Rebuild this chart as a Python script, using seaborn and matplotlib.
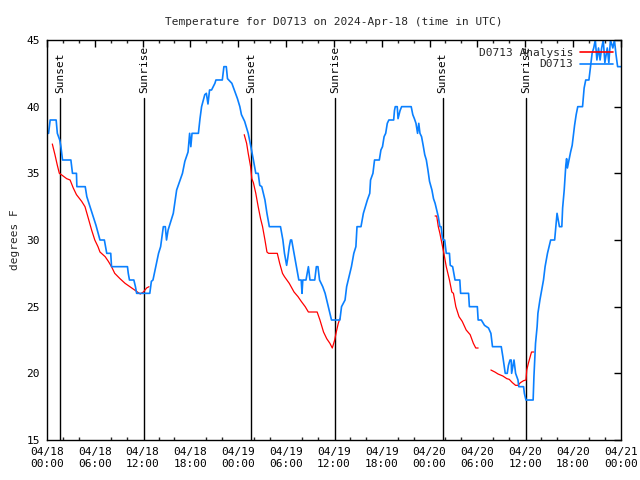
import matplotlib
matplotlib.use("Agg")
import matplotlib.pyplot as plt
import matplotlib.dates as mdates
from matplotlib.lines import Line2D
import numpy as np
import pandas as pd
import seaborn as sns

# time axis starts here, values below are hours after it
t0 = pd.Timestamp("2024-04-18 00:00")

# observed temperature (deg F)
obs_hours = [0.0, 0.2, 0.4, 1.15, 1.3, 1.6, 1.75, 1.95, 3.0, 3.2, 3.7, 3.75, 4.8, 5.0, 5.4, 5.8,
             6.15, 6.65, 7.2, 7.35, 7.5, 8.0, 8.1, 10.1, 10.2, 10.35, 10.9, 11.1, 11.25, 12.9,
             13.1, 13.3, 13.75, 14.0, 14.26, 14.6, 14.85, 15.0, 15.2, 15.85, 16.27, 16.7, 17.0,
             17.3, 17.7, 17.9, 18.05, 18.2, 19.0, 19.2, 19.4, 19.8, 20.0, 20.2, 20.4, 20.65,
             21.07, 21.2, 22.0, 22.2, 22.5, 22.65, 23.2, 23.6, 23.9, 24.2, 24.4, 24.8, 25.0,
             25.25, 25.55, 25.9, 26.2, 26.5, 26.7, 26.95, 27.35, 27.6, 27.9, 29.3, 29.6, 29.8,
             30.07, 30.2, 30.4, 30.56, 30.7, 31.0, 31.3, 31.6, 31.9, 32.0, 32.1, 32.5, 32.8,
             33.0, 33.6, 33.8, 34.0, 34.2, 34.6, 34.9, 35.2, 35.5, 35.7, 36.75, 36.96, 37.4,
             37.6, 37.8, 38.2, 38.5, 38.76, 38.9, 39.4, 39.7, 40.2, 40.5, 40.6, 40.9, 41.1,
             41.7, 41.9, 42.1, 42.3, 42.5, 42.7, 42.9, 43.5, 43.6, 43.7, 43.95, 44.05, 44.3,
             44.5, 45.7, 45.9, 46.1, 46.3, 46.5, 46.65, 46.8, 47.0, 47.2, 47.4, 47.6, 47.8,
             48.0, 48.3, 48.5, 48.7, 48.9, 49.1, 49.3, 49.45, 49.6, 49.7, 49.9, 50.1, 50.5,
             50.6, 50.9, 51.2, 51.8, 51.9, 52.9, 53.0, 54.0, 54.1, 54.5, 54.9, 55.4, 55.7,
             55.9, 57.0, 57.2, 57.45, 57.5, 57.75, 57.9, 58.1, 58.25, 58.3, 58.45, 58.6, 58.8,
             59.1, 59.2, 59.8, 59.9, 60.1, 61.0, 61.1, 61.3, 61.5, 61.6, 61.85, 62.0, 62.3,
             62.5, 62.8, 63.1, 63.2, 63.7, 63.85, 64.0, 64.3, 64.6, 64.7, 64.9, 65.1, 65.2,
             65.3, 65.5, 65.7, 65.9, 66.1, 66.2, 66.4, 66.6, 67.2, 67.4, 67.6, 68.0, 68.2,
             68.4, 68.6, 68.8, 69.0, 69.2, 69.4, 69.6, 69.8, 70.0, 70.3, 70.5, 70.7, 71.0,
             71.2, 71.4, 71.6, 72.0]
obs_temps = [38, 38, 39, 39, 38, 37.5, 37, 36, 36, 35, 35, 34, 34, 33.25, 32.5, 31.75,
             31.1, 30, 30, 29.5, 29, 29, 28, 28, 27.5, 27, 27, 26.5, 26, 26,
             26.9, 27, 28.3, 29, 29.5, 31, 31, 30, 30.75, 32, 33.75, 34.5, 35,
             35.9, 36.6, 38, 37, 38, 38, 39.1, 40, 40.9, 41, 40.2, 41.25, 41.25,
             41.75, 42, 42, 43, 43, 42.1, 41.75, 41.1, 40.6, 40, 39.4, 38.9, 38.5,
             38, 37.1, 36, 35, 35, 34.1, 34, 33, 32, 31, 31, 30, 29,
             28.1, 28.6, 29.5, 30, 30, 29, 28, 27, 27, 26, 27, 27, 28,
             27, 27, 28, 28, 27, 26.5, 26, 25.25, 24.5, 24, 24, 25, 25.5,
             26.5, 27, 28, 29, 29.5, 31, 31, 32, 33, 33.5, 34.5, 35, 36,
             36, 36.75, 37, 37.75, 38, 38.75, 39, 39, 39.7, 40, 40, 39.1, 39.7,
             40, 40, 39.4, 39.1, 38.75, 38, 38.75, 38, 37.75, 37.1, 36.4, 36, 35.25,
             34.4, 33.75, 33.1, 32.75, 32.25, 31.75, 31, 31, 30.25, 30, 30, 29, 29,
             28.1, 28, 27, 27, 26, 26, 25, 25, 24, 24, 23.6, 23.4, 23,
             22, 22, 21.25, 20.25, 20, 20, 20.6, 21, 21, 20, 20.5, 21, 20,
             19.5, 19, 19, 18.5, 18, 18, 19.75, 22.25, 23.5, 24.5, 25.5, 26, 27,
             28, 29, 29.75, 30, 30, 31, 32, 31, 31, 32.4, 33.75, 35.6, 36.1,
             35.4, 36, 36.6, 37.1, 38.1, 38.6, 39.4, 40, 40, 41.4, 42, 42, 43,
             44, 44.4, 45, 43.5, 44.4, 43.5, 44.4, 45, 43.3, 44.4, 43.3, 45, 44.4,
             45, 43.9, 43, 43]

# analysis temperature, four separate pieces
ana_seg = [1] * 28 + [2] * 33 + [3] * 18 + [4] * 17
ana_hours = [0.67, 1.0, 1.3, 1.55, 1.8, 2.47, 2.9, 3.3, 3.7, 4.35, 4.77, 5.2, 5.6, 6.0, 6.4,
             6.65, 7.3, 7.7, 8.1, 8.5, 9.16, 9.8, 10.4, 11.0, 11.7, 12.1, 12.5, 12.8,
             24.75, 25.05, 25.25, 25.55, 25.7, 25.9, 26.2, 26.5, 26.8, 27.05, 27.35, 27.6,
             27.8, 28.9, 29.2, 29.55, 29.8, 30.4, 31.0, 31.5, 31.9, 32.4, 32.8, 33.9, 34.25,
             34.7, 35.1, 35.5, 35.8, 36.1, 36.3, 36.55, 36.75,
             48.7, 48.9, 49.1, 49.3, 49.5, 49.8, 50.1, 50.5, 50.8, 51.0, 51.3, 51.7, 52.1,
             52.6, 53.1, 53.5, 53.8, 54.1,
             55.7, 56.2, 56.6, 57.2, 57.7, 58.0, 58.4, 58.8, 59.1, 59.4, 59.8, 60.1, 60.2,
             60.4, 60.7, 60.8, 61.1]
ana_temps = [37.2, 36.4, 35.6, 35, 34.9, 34.6, 34.5, 33.9, 33.4, 32.9, 32.5, 31.6, 30.75, 30, 29.5,
             29.1, 28.75, 28.4, 28, 27.5, 27.1, 26.75, 26.5, 26.25, 25.95, 26.1, 26.4, 26.5,
             37.9, 37.25, 36.5, 35.5, 34.6, 34.3, 33.5, 32.5, 31.6, 31, 30, 29.1,
             29, 29, 28.25, 27.5, 27.25, 26.75, 26.1, 25.75, 25.4, 25, 24.6, 24.6, 24,
             23.1, 22.6, 22.25, 21.9, 22.5, 23.1, 23.75, 24.1,
             31.8, 31.8, 31, 30.5, 29.9, 29, 28, 27, 26.1, 26, 25, 24.25, 23.9,
             23.25, 22.9, 22.25, 21.9, 21.9,
             20.25, 20.1, 19.95, 19.8, 19.6, 19.55, 19.3, 19.1, 19.1, 19.3, 19.45, 19.5, 20.25,
             20.75, 21.4, 21.6, 21.6]

# sunset / sunrise markers
sun_hours = [1.62, 12.17, 25.63, 36.13, 49.65, 60.1]
sun_labels = ["Sunset", "Sunrise", "Sunset", "Sunrise", "Sunset", "Sunrise"]

obs = pd.DataFrame({"time": t0 + pd.to_timedelta(obs_hours, unit="h"), "temp": obs_temps})
ana = pd.DataFrame({"time": t0 + pd.to_timedelta(ana_hours, unit="h"), "temp": ana_temps,
                    "seg": ana_seg})

RED = "#ff0000"
BLUE = "#0a80ff"

sns.set_theme(style="white")
plt.rcParams["font.family"] = ["DejaVu Sans Mono"]
plt.rcParams["font.size"] = 8

fig, ax = plt.subplots(figsize=(6.4, 4.8), dpi=100)
fig.subplots_adjust(left=0.0734, right=0.970, top=0.9167, bottom=0.0833)

# sunrise/sunset lines
for h, lab in zip(sun_hours, sun_labels):
    t = t0 + pd.Timedelta(hours=h)
    ax.plot([t, t], [15, 40.65], color="black", lw=1.0)
    ax.text(t, 41.0, lab, rotation=90, ha="center", va="bottom", fontsize=8, color="black")

sns.lineplot(data=ana, x="time", y="temp", units="seg", estimator=None, color=RED,
             lw=0.9, ax=ax, legend=False)
sns.lineplot(data=obs, x="time", y="temp", estimator=None, sort=False, color=BLUE,
             lw=1.2, ax=ax, legend=False)

ax.set_xlim(t0, t0 + pd.Timedelta(hours=72))
ax.set_ylim(15, 45)
ax.set_yticks(np.arange(15, 46, 5))
ax.xaxis.set_major_locator(mdates.HourLocator(byhour=[0, 6, 12, 18]))
ax.xaxis.set_minor_locator(mdates.HourLocator(byhour=range(0, 24, 2)))
ax.xaxis.set_major_formatter(mdates.DateFormatter("%m/%d\n%H:%M"))
ax.tick_params(which="major", direction="in", length=5, width=1, top=True, right=True,
               labelsize=8, colors="black", pad=5)
ax.tick_params(which="minor", direction="in", length=2.5, width=1, top=True, bottom=True)
for sp in ax.spines.values():
    sp.set_visible(True)
    sp.set_color("black")
    sp.set_linewidth(1.0)

ax.set_xlabel("")
ax.set_ylabel("degrees F", fontsize=8, labelpad=5)
ax.set_title("Temperature for D0713 on 2024-Apr-18 (time in UTC)", fontsize=8, pad=11)

handles = [Line2D([], [], color=RED, lw=1.2), Line2D([], [], color=BLUE, lw=1.2)]
ax.legend(handles, ["D0713 Analysis", "D0713"], loc="upper right", frameon=False,
          markerfirst=False, handlelength=3.0, fontsize=8, borderaxespad=0.3,
          labelspacing=0.15, handletextpad=0.6)

fig.savefig("out.png", dpi=100)
